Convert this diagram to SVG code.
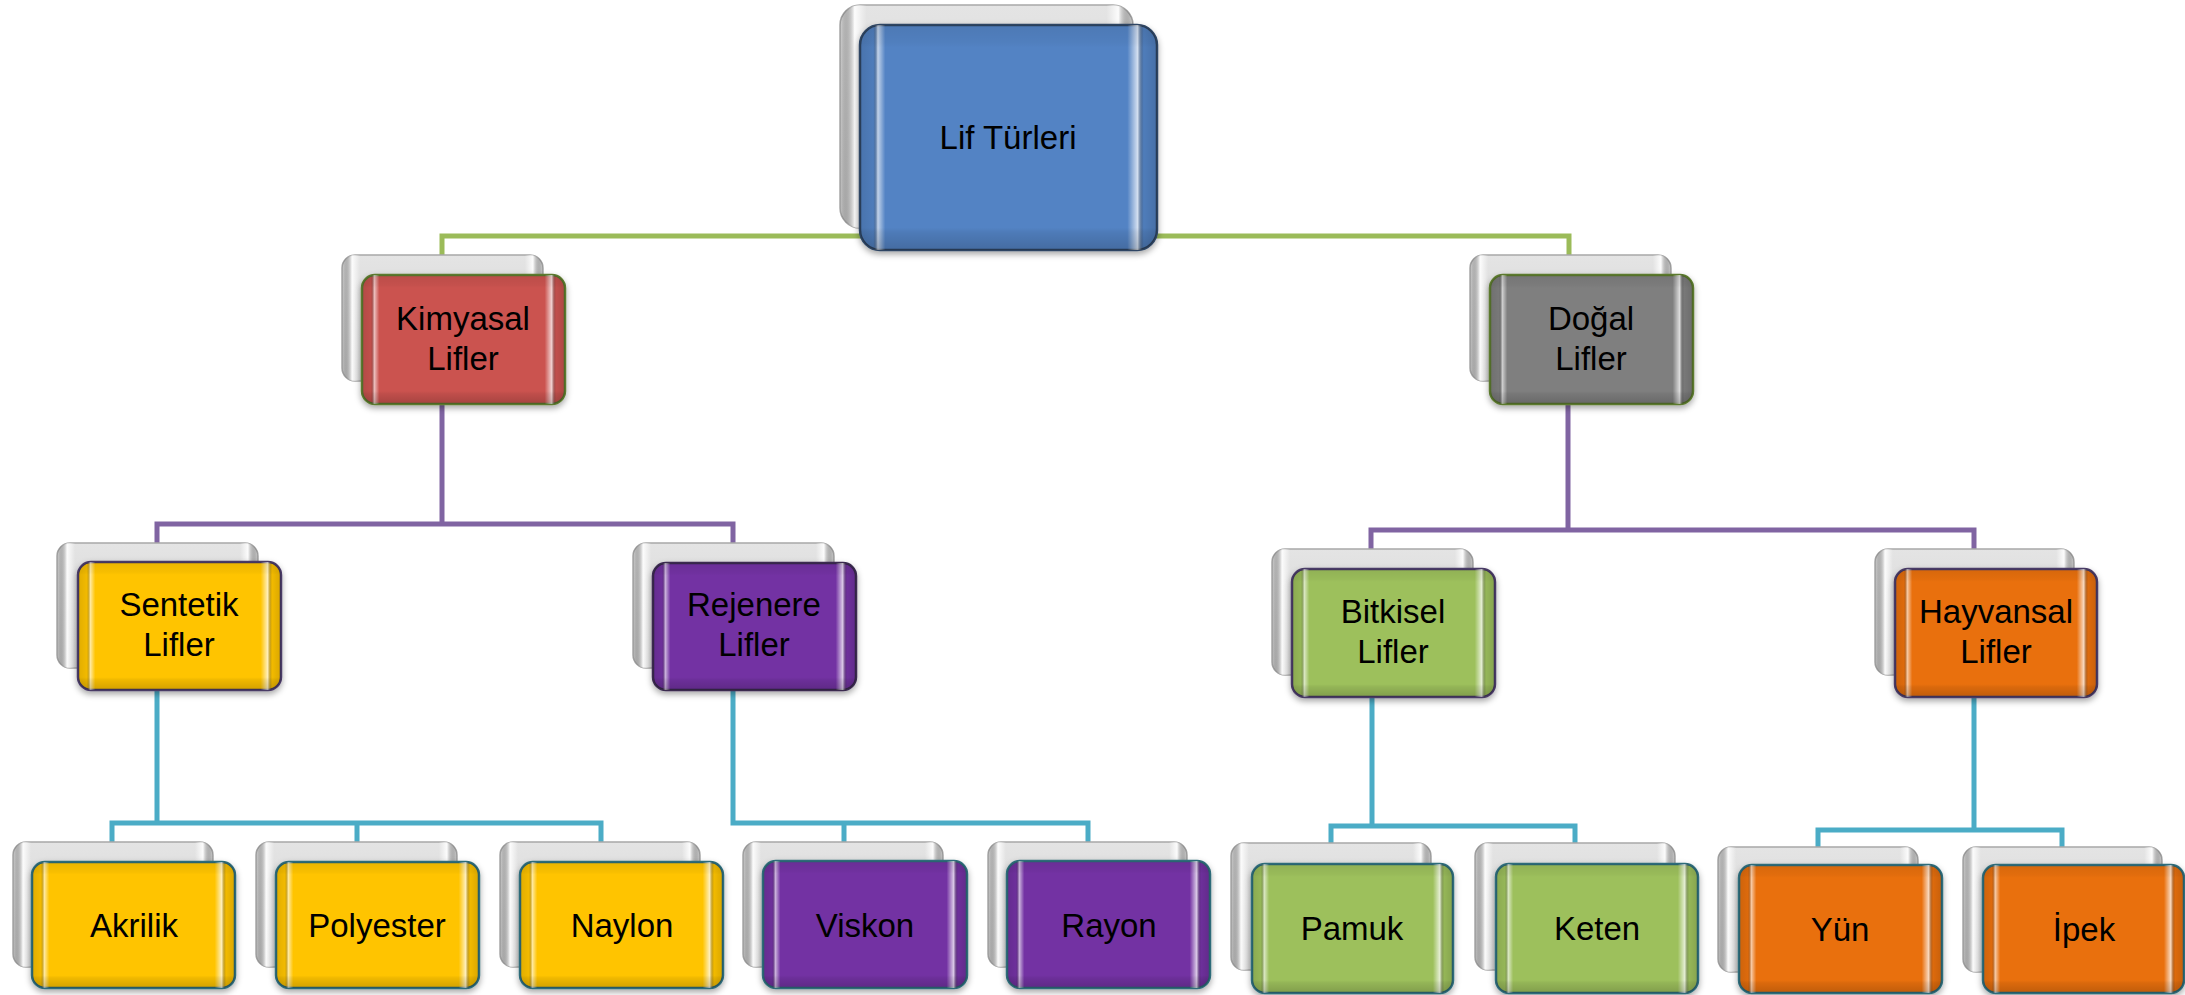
<svg xmlns="http://www.w3.org/2000/svg" width="2185" height="995" viewBox="0 0 2185 995">
<defs>
<linearGradient id="gBack" x1="0" y1="0" x2="0" y2="1">
<stop offset="0" stop-color="#e4e4e4"/><stop offset="1" stop-color="#d2d2d2"/>
</linearGradient>
<linearGradient id="bH" x1="0" y1="0" x2="1" y2="0">
<stop offset="0" stop-color="#000" stop-opacity="0.12"/>
<stop offset="0.045" stop-color="#000" stop-opacity="0.05"/>
<stop offset="0.06" stop-color="#fff" stop-opacity="0.65"/>
<stop offset="0.085" stop-color="#fff" stop-opacity="0"/>
<stop offset="0.9" stop-color="#fff" stop-opacity="0"/>
<stop offset="0.935" stop-color="#fff" stop-opacity="0.75"/>
<stop offset="0.955" stop-color="#000" stop-opacity="0.05"/>
<stop offset="1" stop-color="#000" stop-opacity="0.15"/>
</linearGradient>
<linearGradient id="bV" x1="0" y1="0" x2="0" y2="1">
<stop offset="0" stop-color="#000" stop-opacity="0.08"/>
<stop offset="0.08" stop-color="#000" stop-opacity="0.03"/>
<stop offset="0.1" stop-color="#000" stop-opacity="0"/>
<stop offset="0.9" stop-color="#000" stop-opacity="0"/>
<stop offset="0.92" stop-color="#000" stop-opacity="0.06"/>
<stop offset="1" stop-color="#000" stop-opacity="0.18"/>
</linearGradient>
<linearGradient id="bHb" x1="0" y1="0" x2="1" y2="0">
<stop offset="0" stop-color="#000" stop-opacity="0.06"/>
<stop offset="0.05" stop-color="#fff" stop-opacity="0.9"/>
<stop offset="0.09" stop-color="#fff" stop-opacity="0"/>
<stop offset="0.91" stop-color="#fff" stop-opacity="0"/>
<stop offset="0.95" stop-color="#fff" stop-opacity="0.9"/>
<stop offset="1" stop-color="#000" stop-opacity="0.08"/>
</linearGradient>
<filter id="sh" x="-10%" y="-10%" width="120%" height="130%">
<feDropShadow dx="0" dy="3" stdDeviation="3" flood-color="#000" flood-opacity="0.35"/>
</filter>
</defs>
<style>
.back{fill:url(#gBack);stroke:#a8a8a8;stroke-width:1.5}
.backh{fill:url(#bHb)}
.front{stroke-width:2.5;filter:url(#sh)}
.bh{fill:url(#bH)}
.bv{fill:url(#bV)}
.t{font-family:"Liberation Sans",Arial,sans-serif;font-size:33px;fill:#000;text-anchor:middle}
.c{fill:none;stroke-width:5}
.cg{stroke:#9bbb59}
.cp{stroke:#8064a2}
.cc{stroke:#4bacc6}
</style>
<rect width="2185" height="995" fill="#fff"/>

<g id="connectors">
<path class="c cg" d="M442 257V236H1569V257"/>
<path class="c cp" d="M442 404V524M157 545V524H733V545"/>
<path class="c cp" d="M1568 404V530M1371 551V530H1974V551"/>
<path class="c cc" d="M157 690V823M112 844V823H601V844M357 823V844"/>
<path class="c cc" d="M733 690V823H1088V844M844 823V844"/>
<path class="c cc" d="M1372 697V826M1331 845V826H1575V845"/>
<path class="c cc" d="M1974 697V830M1818 849V830H2062V849"/>
</g>

<g id="root">
<rect class="back" x="840" y="5" width="293" height="223" rx="20"/>
<rect class="backh" x="840" y="5" width="293" height="223" rx="20"/>
<rect class="front" x="860" y="25" width="297" height="225" rx="20" fill="#5283c4" stroke="#2e4563"/>
<rect class="bh" x="860" y="25" width="297" height="225" rx="20"/>
<rect class="bv" x="860" y="25" width="297" height="225" rx="20"/>
<text class="t" x="1008" y="149">Lif Türleri</text>
</g>

<g id="kimyasal">
<rect class="back" x="342" y="255" width="201" height="126" rx="13"/>
<rect class="backh" x="342" y="255" width="201" height="126" rx="13"/>
<rect class="front" x="362" y="275" width="203" height="129" rx="13" fill="#cb5350" stroke="#5c7a2e"/>
<rect class="bh" x="362" y="275" width="203" height="129" rx="13"/>
<rect class="bv" x="362" y="275" width="203" height="129" rx="13"/>
<text class="t" x="463" y="330">Kimyasal<tspan x="463" dy="40">Lifler</tspan></text>
</g>

<g id="dogal">
<rect class="back" x="1470" y="255" width="201" height="126" rx="13"/>
<rect class="backh" x="1470" y="255" width="201" height="126" rx="13"/>
<rect class="front" x="1490" y="275" width="203" height="129" rx="13" fill="#7f7f7f" stroke="#5c7a2e"/>
<rect class="bh" x="1490" y="275" width="203" height="129" rx="13"/>
<rect class="bv" x="1490" y="275" width="203" height="129" rx="13"/>
<text class="t" x="1591" y="330">Doğal<tspan x="1591" dy="40">Lifler</tspan></text>
</g>

<g id="sentetik">
<rect class="back" x="57" y="543" width="201" height="125" rx="13"/>
<rect class="backh" x="57" y="543" width="201" height="125" rx="13"/>
<rect class="front" x="78" y="562" width="203" height="128" rx="13" fill="#ffc400" stroke="#4a3a66"/>
<rect class="bh" x="78" y="562" width="203" height="128" rx="13"/>
<rect class="bv" x="78" y="562" width="203" height="128" rx="13"/>
<text class="t" x="179" y="616">Sentetik<tspan x="179" dy="40">Lifler</tspan></text>
</g>

<g id="rejenere">
<rect class="back" x="633" y="543" width="201" height="125" rx="13"/>
<rect class="backh" x="633" y="543" width="201" height="125" rx="13"/>
<rect class="front" x="653" y="563" width="203" height="127" rx="13" fill="#7330a3" stroke="#3a2a50"/>
<rect class="bh" x="653" y="563" width="203" height="127" rx="13"/>
<rect class="bv" x="653" y="563" width="203" height="127" rx="13"/>
<text class="t" x="754" y="616">Rejenere<tspan x="754" dy="40">Lifler</tspan></text>
</g>

<g id="bitkisel">
<rect class="back" x="1272" y="549" width="201" height="126" rx="13"/>
<rect class="backh" x="1272" y="549" width="201" height="126" rx="13"/>
<rect class="front" x="1292" y="569" width="203" height="128" rx="13" fill="#9dc05b" stroke="#4a3a66"/>
<rect class="bh" x="1292" y="569" width="203" height="128" rx="13"/>
<rect class="bv" x="1292" y="569" width="203" height="128" rx="13"/>
<text class="t" x="1393" y="623">Bitkisel<tspan x="1393" dy="40">Lifler</tspan></text>
</g>

<g id="hayvansal">
<rect class="back" x="1875" y="549" width="199" height="126" rx="13"/>
<rect class="backh" x="1875" y="549" width="199" height="126" rx="13"/>
<rect class="front" x="1895" y="569" width="202" height="128" rx="13" fill="#e97010" stroke="#4a3a66"/>
<rect class="bh" x="1895" y="569" width="202" height="128" rx="13"/>
<rect class="bv" x="1895" y="569" width="202" height="128" rx="13"/>
<text class="t" x="1996" y="623">Hayvansal<tspan x="1996" dy="40">Lifler</tspan></text>
</g>

<g id="akrilik">
<rect class="back" x="13" y="842" width="200" height="125" rx="13"/>
<rect class="backh" x="13" y="842" width="200" height="125" rx="13"/>
<rect class="front" x="32" y="862" width="203" height="126" rx="13" fill="#ffc400" stroke="#2f6c7a"/>
<rect class="bh" x="32" y="862" width="203" height="126" rx="13"/>
<rect class="bv" x="32" y="862" width="203" height="126" rx="13"/>
<text class="t" x="134" y="937">Akrilik</text>
</g>

<g id="polyester">
<rect class="back" x="256" y="842" width="201" height="125" rx="13"/>
<rect class="backh" x="256" y="842" width="201" height="125" rx="13"/>
<rect class="front" x="276" y="862" width="203" height="126" rx="13" fill="#ffc400" stroke="#2f6c7a"/>
<rect class="bh" x="276" y="862" width="203" height="126" rx="13"/>
<rect class="bv" x="276" y="862" width="203" height="126" rx="13"/>
<text class="t" x="377" y="937">Polyester</text>
</g>

<g id="naylon">
<rect class="back" x="500" y="842" width="200" height="125" rx="13"/>
<rect class="backh" x="500" y="842" width="200" height="125" rx="13"/>
<rect class="front" x="520" y="862" width="203" height="126" rx="13" fill="#ffc400" stroke="#2f6c7a"/>
<rect class="bh" x="520" y="862" width="203" height="126" rx="13"/>
<rect class="bv" x="520" y="862" width="203" height="126" rx="13"/>
<text class="t" x="622" y="937">Naylon</text>
</g>

<g id="viskon">
<rect class="back" x="743" y="842" width="200" height="125" rx="13"/>
<rect class="backh" x="743" y="842" width="200" height="125" rx="13"/>
<rect class="front" x="763" y="861" width="204" height="127" rx="13" fill="#7330a3" stroke="#2f6c7a"/>
<rect class="bh" x="763" y="861" width="204" height="127" rx="13"/>
<rect class="bv" x="763" y="861" width="204" height="127" rx="13"/>
<text class="t" x="865" y="937">Viskon</text>
</g>

<g id="rayon">
<rect class="back" x="988" y="842" width="199" height="125" rx="13"/>
<rect class="backh" x="988" y="842" width="199" height="125" rx="13"/>
<rect class="front" x="1007" y="861" width="203" height="127" rx="13" fill="#7330a3" stroke="#2f6c7a"/>
<rect class="bh" x="1007" y="861" width="203" height="127" rx="13"/>
<rect class="bv" x="1007" y="861" width="203" height="127" rx="13"/>
<text class="t" x="1109" y="937">Rayon</text>
</g>

<g id="pamuk">
<rect class="back" x="1231" y="843" width="200" height="127" rx="13"/>
<rect class="backh" x="1231" y="843" width="200" height="127" rx="13"/>
<rect class="front" x="1252" y="864" width="201" height="129" rx="13" fill="#9dc05b" stroke="#2f6c7a"/>
<rect class="bh" x="1252" y="864" width="201" height="129" rx="13"/>
<rect class="bv" x="1252" y="864" width="201" height="129" rx="13"/>
<text class="t" x="1352" y="940">Pamuk</text>
</g>

<g id="keten">
<rect class="back" x="1475" y="843" width="200" height="127" rx="13"/>
<rect class="backh" x="1475" y="843" width="200" height="127" rx="13"/>
<rect class="front" x="1496" y="864" width="202" height="129" rx="13" fill="#9dc05b" stroke="#2f6c7a"/>
<rect class="bh" x="1496" y="864" width="202" height="129" rx="13"/>
<rect class="bv" x="1496" y="864" width="202" height="129" rx="13"/>
<text class="t" x="1597" y="940">Keten</text>
</g>

<g id="yun">
<rect class="back" x="1718" y="847" width="200" height="125" rx="13"/>
<rect class="backh" x="1718" y="847" width="200" height="125" rx="13"/>
<rect class="front" x="1739" y="865" width="203" height="128" rx="13" fill="#e97010" stroke="#2f6c7a"/>
<rect class="bh" x="1739" y="865" width="203" height="128" rx="13"/>
<rect class="bv" x="1739" y="865" width="203" height="128" rx="13"/>
<text class="t" x="1840" y="941">Yün</text>
</g>

<g id="ipek">
<rect class="back" x="1963" y="847" width="199" height="125" rx="13"/>
<rect class="backh" x="1963" y="847" width="199" height="125" rx="13"/>
<rect class="front" x="1983" y="865" width="201" height="128" rx="13" fill="#e97010" stroke="#2f6c7a"/>
<rect class="bh" x="1983" y="865" width="201" height="128" rx="13"/>
<rect class="bv" x="1983" y="865" width="201" height="128" rx="13"/>
<text class="t" x="2084" y="941">İpek</text>
</g>
</svg>
